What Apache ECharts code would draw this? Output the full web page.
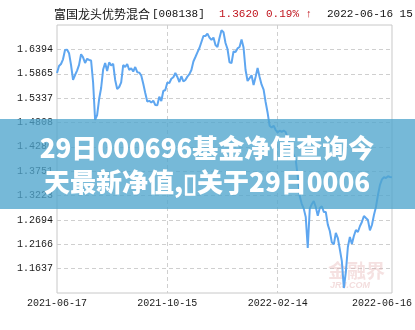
<!DOCTYPE html>
<html>
<head>
<meta charset="utf-8">
<script src="https://cdn.jsdelivr.net/npm/echarts@6/dist/echarts.min.js"></script>
<style>
html,body{margin:0;padding:0;background:#fff;}
#chart{width:415px;height:330px;}
</style>
</head>
<body>
<div id="chart"></div>
<script>
const fundName = '富国龙头优势混合';
const fundCode = '[008138]';
const lastNav = '1.3620';
const lastChange = '0.19% ↑';
const lastTime = '2022-06-16 15:00';
const bannerLines = ['29日000696基金净值查询今', '天最新净值,\u25AF关于29日0006'];

const xTickLabels = ['2021-06-17', '2021-10-15', '2022-02-14', '2022-06-16'];
const xTickIndex = [0, 55, 110, 167];
const yTickValues = [1.1637, 1.2166, 1.2694, 1.3223, 1.3751, 1.4280, 1.4808, 1.5337, 1.5865, 1.6394];
const yMin = 1.1108;
const yMax = 1.6923;

const navValues = [
1.5882,1.6033,1.6077,1.6179,1.6381,1.6389,1.6311,1.6055,1.5730,1.5838,
1.5934,1.6059,1.6289,1.6220,1.6099,1.6190,1.6164,1.6153,1.5675,1.4862,
1.4970,1.5317,1.5556,1.5957,1.6099,1.5925,1.6112,1.6046,1.6081,1.5730,
1.5534,1.5578,1.5678,1.6055,1.6012,1.6077,1.5947,1.5984,1.5914,1.6012,
1.5899,1.5890,1.5827,1.5649,1.5448,1.5261,1.5278,1.5239,1.5283,1.5187,
1.5181,1.5365,1.5274,1.5491,1.5513,1.5673,1.5665,1.5756,1.5790,1.5882,
1.5795,1.5686,1.5812,1.5697,1.5730,1.5803,1.5856,1.5947,1.6131,1.6229,
1.6329,1.6424,1.6554,1.6684,1.6684,1.6736,1.6650,1.6598,1.6650,1.6489,
1.6446,1.6641,1.6810,1.6767,1.6532,1.6402,1.6112,1.6099,1.6348,1.6337,
1.6415,1.6446,1.6608,1.6435,1.5947,1.5708,1.5769,1.5832,1.5621,1.5795,
1.5990,1.5795,1.5628,1.5521,1.5252,1.5018,1.4736,1.4697,1.4740,1.4645,
1.4588,1.4632,1.4606,1.4632,1.4601,1.4471,1.4319,1.4211,1.4102,1.3994,
1.3647,1.3213,1.3043,1.2939,1.2757,1.2084,1.2931,1.3035,1.3104,1.2974,
1.2785,1.2952,1.2991,1.2868,1.2866,1.2592,1.2453,1.2206,1.2163,1.2410,
1.2301,1.2054,1.1798,1.1216,1.1564,1.2106,1.2323,1.2171,1.2345,1.2475,
1.2432,1.2557,1.2649,1.2779,1.2735,1.2692,1.2468,1.2583,1.2800,1.2974,
1.3234,1.3451,1.3573,1.3618,1.3603,1.3640,1.3625,1.3620
];

const categories = navValues.map((v, i) => i);
const monoFont = '"Liberation Mono", "DejaVu Sans Mono", monospace';
const cjkFont = '"Noto Sans CJK SC", sans-serif';

const chart = echarts.init(document.getElementById('chart'), null, {renderer: 'canvas'});
chart.setOption({
  animation: false,
  backgroundColor: '#ffffff',
  grid: {
    left: 57, right: 23, top: 25, bottom: 37,
    show: true, borderColor: '#c8c8c8', borderWidth: 1, backgroundColor: 'transparent'
  },
  xAxis: {
    type: 'category',
    data: categories,
    boundaryGap: false,
    axisLine: {show: false},
    axisTick: {show: false},
    axisLabel: {
      interval: (idx) => xTickIndex.indexOf(idx) >= 0,
      margin: 5,
      color: '#1a1a1a',
      fontFamily: monoFont,
      fontSize: 10,
      formatter: (v, idx) => {
        const k = xTickIndex.indexOf(Number(v));
        if (k < 0) return '';
        if (k === xTickIndex.length - 1) return '{last|' + xTickLabels[k] + '}';
        return xTickLabels[k];
      },
      rich: {
        last: {padding: [0, 20, 0, 0], fontFamily: monoFont, fontSize: 10, color: '#1a1a1a'}
      }
    },
    splitLine: {
      show: true,
      interval: (idx) => idx === xTickIndex[1] || idx === xTickIndex[2],
      lineStyle: {color: '#cfcfcf', type: [4, 3], width: 1}
    }
  },
  yAxis: {
    type: 'value',
    min: yMin,
    max: yMax,
    axisLine: {show: false},
    axisTick: {show: false, customValues: yTickValues},
    axisLabel: {
      customValues: yTickValues,
      margin: 4,
      color: '#1a1a1a',
      fontFamily: monoFont,
      fontSize: 10,
      formatter: (v) => Number(v).toFixed(4)
    },
    splitLine: {
      show: true,
      lineStyle: {color: '#cfcfcf', type: [4, 3], width: 1}
    }
  },
  series: [{
    type: 'line',
    data: navValues,
    showSymbol: false,
    symbol: 'none',
    z: 3,
    lineStyle: {color: '#5ea6f0', width: 2},
    emphasis: {disabled: true}
  }],
  graphic: [
    {type: 'text', left: 54, top: 8, z: 10, style: {text: fundName, font: '12px ' + cjkFont, fill: '#111'}},
    {type: 'text', left: 152, top: 9, z: 10, style: {text: fundCode, font: '11px ' + monoFont, fill: '#111'}},
    {type: 'text', left: 219, top: 9, z: 10, style: {text: lastNav, font: '11px ' + monoFont, fill: '#c0131c'}},
    {type: 'text', left: 266, top: 9, z: 10, style: {text: lastChange, font: '11px ' + monoFont, fill: '#c0131c'}},
    {type: 'text', left: 327, top: 9, z: 10, style: {text: lastTime, font: '11px ' + monoFont, fill: '#111'}},
    {type: 'text', left: 328, top: 261, z: 1, style: {text: '金融界', font: 'bold 19px ' + cjkFont, fill: 'rgba(225,170,170,0.35)'}},
    {type: 'text', left: 330, top: 281, z: 1, style: {text: 'JRJ.COM', font: 'italic bold 9px sans-serif', fill: 'rgba(225,170,170,0.4)'}},
    {type: 'rect', left: 0, top: 119, z: 100, shape: {width: 415, height: 90}, style: {fill: 'rgba(80,165,205,0.78)'}},
    {type: 'text', x: 207, y: 148, z: 101, style: {text: bannerLines[0], font: '900 26px ' + cjkFont, fill: '#ffffff', align: 'center', verticalAlign: 'middle'}},
    {type: 'text', x: 207, y: 182, z: 101, style: {text: bannerLines[1], font: '900 26px ' + cjkFont, fill: '#ffffff', align: 'center', verticalAlign: 'middle'}}
  ]
});
</script>
</body>
</html>
